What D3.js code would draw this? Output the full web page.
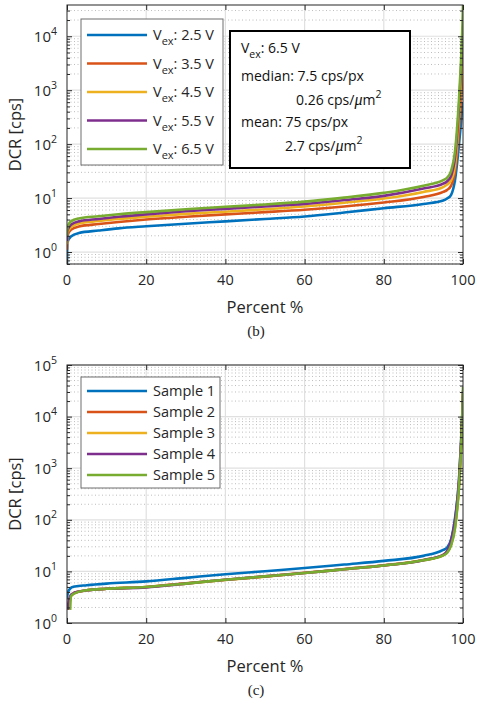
<!DOCTYPE html>
<html><head><meta charset="utf-8">
<script src="https://cdn.jsdelivr.net/npm/d3@7"></script>
<style>
body{margin:0;background:#fff;}
svg{display:block;font-family:"Open Sans",sans-serif;}
</style>
</head><body>
<svg id="chart" width="482" height="702"></svg>
<script>
// ---------- DATA ----------
const xTicks = [0, 20, 40, 60, 80, 100];
const yTicksB = [1, 10, 100, 1000, 10000];
const yTicksC = [1, 10, 100, 1000, 10000, 100000];
const seriesColors = ["#0072BD", "#D95319", "#EDB120", "#7E2F8E", "#77AC30"];

// panel (b): DCR vs percent for several excess voltages
const vexLabels = ["2.5", "3.5", "4.5", "5.5", "6.5"];
const percentB = [0, 0.1, 1, 3, 8, 13, 20, 30, 40, 50, 60, 70, 80, 90, 95, 96, 97, 98, 99, 99.5, 99.8, 100];
const dcrVex25 = [0.6, 1.5, 1.94, 2.25, 2.5, 2.75, 3.0, 3.35, 3.7, 4.1, 4.56, 5.4, 6.5, 7.8, 9.0, 9.8, 11.5, 22, 100, 250, 450, 600];
const dcrVex35 = [1.1, 2.0, 2.6, 2.98, 3.3, 3.6, 4.0, 4.5, 5.0, 5.5, 6.1, 7.0, 8.3, 10.5, 13, 14.2, 17, 32, 200, 700, 1500, 2500];
const dcrVex45 = [1.4, 2.3, 2.9, 3.4, 3.75, 4.1, 4.5, 5.1, 5.6, 6.2, 7.0, 8.2, 9.8, 13, 16, 17.8, 21.5, 42, 350, 1500, 4000, 8000];
const dcrVex55 = [1.6, 2.5, 3.2, 3.7, 4.1, 4.5, 5.0, 5.7, 6.3, 7.0, 7.8, 9.2, 11, 15, 18.5, 20.5, 26, 58, 500, 2500, 7000, 15000];
const dcrVex65 = [2.0, 2.8, 3.7, 4.2, 4.6, 5.0, 5.5, 6.2, 6.9, 7.6, 8.6, 10.2, 12.5, 17, 21.5, 24, 32, 75, 700, 3500, 12000, 38000];

// panel (c): DCR vs percent for several samples
const sampleLabels = ["Sample 1", "Sample 2", "Sample 3", "Sample 4", "Sample 5"];
const percentC = [0, 0.15, 0.4, 0.8, 1, 1.5, 2, 5, 10, 20, 30, 40, 50, 60, 70, 80, 90, 95, 96, 97, 98, 99, 99.5, 99.8, 100];
const sample1 = [3.0, 3.6, 4.2, 4.6, 4.8, 5.0, 5.1, 5.4, 5.8, 6.4, 7.5, 8.8, 10.1, 11.6, 13.6, 16, 20, 26, 29, 42, 110, 600, 3000, 10000, 25000];
const sample2 = [null, null, 1.8, 3.0, 3.4, 3.7, 3.9, 4.3, 4.6, 5.0, 5.9, 6.9, 8.0, 9.4, 11.1, 13.1, 16.6, 21, 24, 34, 80, 500, 2500, 9000, 30000];
const sample3 = [null, null, 1.8, 2.9, 3.3, 3.6, 3.8, 4.3, 4.6, 5.0, 5.8, 6.8, 7.9, 9.3, 11.0, 13.0, 16.4, 20.5, 23.5, 33, 75, 480, 2400, 8500, 28000];
const sample4 = [null, 1.8, 2.6, 3.3, 3.5, 3.7, 3.9, 4.3, 4.6, 4.9, 5.8, 6.9, 8.0, 9.3, 11.0, 13.0, 16.5, 21, 25, 40, 100, 600, 3000, 10000, 32000];
const sample5 = [null, null, null, 1.8, 3.3, 3.6, 3.8, 4.3, 4.6, 5.0, 5.8, 6.9, 8.0, 9.3, 11.0, 13.0, 16.4, 20.5, 23, 32, 70, 450, 2300, 8000, 38000];

// ---------- DRAWING ----------
const svg = d3.select("#chart");
const axisColor = "#262626";

function drawPanel(cfg) {
  const {left, right, top, bottom, yDomain, yTicks, percent, series, labels, caption, legendBox, legendRowY, subscript} = cfg;
  const x = d3.scaleLinear().domain([0, 100]).range([left, right]);
  const y = d3.scaleLog().domain(yDomain).range([bottom, top]);
  const g = svg.append("g");

  const lo = Math.floor(Math.log10(yDomain[0])), hi = Math.ceil(Math.log10(yDomain[1]));
  const minor = [];
  for (let d = lo; d < hi; d++) for (let k = 2; k <= 9; k++) {
    const v = k * Math.pow(10, d);
    if (v >= yDomain[0] && v <= yDomain[1]) minor.push(v);
  }
  // minor grid (dotted)
  g.selectAll(null).data(minor).join("line")
    .attr("x1", left).attr("x2", right)
    .attr("y1", d => y(d)).attr("y2", d => y(d))
    .attr("stroke", "#bdbdbd").attr("stroke-width", 1).attr("stroke-dasharray", "1,2.5");
  // major grid
  g.selectAll(null).data(yTicks).join("line")
    .attr("x1", left).attr("x2", right)
    .attr("y1", d => y(d)).attr("y2", d => y(d))
    .attr("stroke", "#e0e0e0").attr("stroke-width", 1.2);
  g.selectAll(null).data(xTicks.slice(1, -1)).join("line")
    .attr("x1", d => x(d)).attr("x2", d => x(d))
    .attr("y1", top).attr("y2", bottom)
    .attr("stroke", "#e0e0e0").attr("stroke-width", 1.2);

  const cid = "clip" + top;
  svg.append("clipPath").attr("id", cid).append("rect")
    .attr("x", left).attr("y", top).attr("width", right - left).attr("height", bottom - top);

  const line = d3.line()
    .defined(d => d[1] != null)
    .x(d => x(d[0])).y(d => y(d[1]))
    .curve(d3.curveMonotoneX);
  const lg = g.append("g").attr("clip-path", `url(#${cid})`);
  series.forEach((s, i) => {
    lg.append("path")
      .datum(percent.map((p, j) => [p, s[j]]))
      .attr("d", line)
      .attr("fill", "none").attr("stroke", seriesColors[i]).attr("stroke-width", 2.6)
      .attr("stroke-linejoin", "round");
  });

  g.append("rect").attr("x", left).attr("y", top).attr("width", right - left).attr("height", bottom - top)
    .attr("fill", "none").attr("stroke", axisColor).attr("stroke-width", 1);

  const axB = d3.axisBottom(x).tickValues(xTicks).tickSize(-5).tickFormat("");
  const axT = d3.axisTop(x).tickValues(xTicks).tickSize(-5).tickFormat("");
  const axL = d3.axisLeft(y).tickValues(yTicks).tickSize(-5).tickFormat("");
  const axR = d3.axisRight(y).tickValues(yTicks).tickSize(-5).tickFormat("");
  const axLm = d3.axisLeft(y).tickValues(minor).tickSize(-3).tickFormat("");
  const axRm = d3.axisRight(y).tickValues(minor).tickSize(-3).tickFormat("");
  [[axB, `translate(0,${bottom})`], [axT, `translate(0,${top})`], [axL, `translate(${left},0)`],
   [axR, `translate(${right},0)`], [axLm, `translate(${left},0)`], [axRm, `translate(${right},0)`]].forEach(([a, t]) => {
    const ag = g.append("g").attr("transform", t).call(a);
    ag.select(".domain").remove();
    ag.selectAll("line").attr("stroke", axisColor).attr("stroke-width", 1);
  });

  g.selectAll(null).data(xTicks).join("text")
    .attr("x", d => x(d)).attr("y", bottom + 21)
    .attr("text-anchor", "middle").attr("font-size", 14.5).attr("fill", axisColor)
    .text(d => d);
  yTicks.forEach(v => {
    const t = g.append("text").attr("x", 57).attr("y", y(v) + 5.5)
      .attr("text-anchor", "end").attr("font-size", 15).attr("fill", axisColor);
    t.append("tspan").text("10");
    t.append("tspan").attr("dy", -7).attr("font-size", 10.5).text(Math.round(Math.log10(v)));
  });
  g.append("text").attr("x", (left + right) / 2).attr("y", bottom + 49)
    .attr("text-anchor", "middle").attr("font-size", 16.5).attr("fill", axisColor).text("Percent %");
  g.append("text").attr("transform", `translate(21,${(top + bottom) / 2}) rotate(-90)`)
    .attr("text-anchor", "middle").attr("font-size", 16.5).attr("fill", axisColor).text("DCR [cps]");
  g.append("text").attr("x", 256).attr("y", bottom + 72)
    .attr("text-anchor", "middle").attr("font-size", 15).attr("font-family", "Liberation Serif, serif")
    .attr("fill", "#222").text(caption);

  const [bx, by, bw, bh] = legendBox;
  g.append("rect").attr("x", bx).attr("y", by).attr("width", bw).attr("height", bh)
    .attr("fill", "#fff").attr("stroke", "#6e6e6e").attr("stroke-width", 1);
  labels.forEach((lab, i) => {
    const ly = legendRowY[i];
    g.append("line").attr("x1", 87).attr("x2", 147).attr("y1", ly).attr("y2", ly)
      .attr("stroke", seriesColors[i]).attr("stroke-width", 2.6);
    const t = g.append("text").attr("x", 153).attr("y", ly + 5).attr("font-size", 14.5).attr("fill", axisColor);
    if (subscript) {
      t.append("tspan").text("V");
      t.append("tspan").attr("dy", 5).attr("font-size", 11).text("ex");
      t.append("tspan").attr("dy", -5).text(": " + lab + " V");
    } else {
      t.text(lab);
    }
  });
  return {x, y, g};
}

drawPanel({
  left: 67, right: 463, top: 5, bottom: 264,
  yDomain: [0.6, 38000], yTicks: yTicksB,
  percent: percentB,
  series: [dcrVex25, dcrVex35, dcrVex45, dcrVex55, dcrVex65],
  labels: vexLabels, subscript: true,
  caption: "(b)",
  legendBox: [81, 19, 142, 146],
  legendRowY: [35, 63.5, 92, 120.5, 149]
});

drawPanel({
  left: 67, right: 463, top: 365, bottom: 623,
  yDomain: [1, 100000], yTicks: yTicksC,
  percent: percentC,
  series: [sample1, sample2, sample3, sample4, sample5],
  labels: sampleLabels, subscript: false,
  caption: "(c)",
  legendBox: [81, 377, 139, 111],
  legendRowY: [391, 412, 433, 454, 475]
});

// annotation box in panel (b)
const ann = svg.append("g");
ann.append("rect").attr("x", 230).attr("y", 31).attr("width", 180).attr("height", 137)
  .attr("fill", "#fff").attr("stroke", "#000").attr("stroke-width", 2);
const aFont = 14;
{
  const t = ann.append("text").attr("x", 241).attr("y", 53).attr("font-size", aFont).attr("fill", "#111");
  t.append("tspan").text("V");
  t.append("tspan").attr("dy", 5).attr("font-size", 10.5).text("ex");
  t.append("tspan").attr("dy", -5).text(": 6.5 V");
}
ann.append("text").attr("x", 241).attr("y", 81).attr("font-size", aFont).attr("fill", "#111").text("median: 7.5 cps/px");
function areaLine(xp, yp, num) {
  const t = ann.append("text").attr("x", xp).attr("y", yp).attr("font-size", aFont).attr("fill", "#111");
  t.append("tspan").text(num + " cps/");
  t.append("tspan").attr("font-style", "italic").attr("font-family", "Liberation Serif, serif").attr("font-size", 16).text("μ");
  t.append("tspan").text("m");
  t.append("tspan").attr("dy", -7).attr("font-size", 10.5).text("2");
}
areaLine(296, 105, "0.26");
ann.append("text").attr("x", 241).attr("y", 127).attr("font-size", aFont).attr("fill", "#111").text("mean: 75 cps/px");
areaLine(285, 151, "2.7");
</script>
</body></html>
